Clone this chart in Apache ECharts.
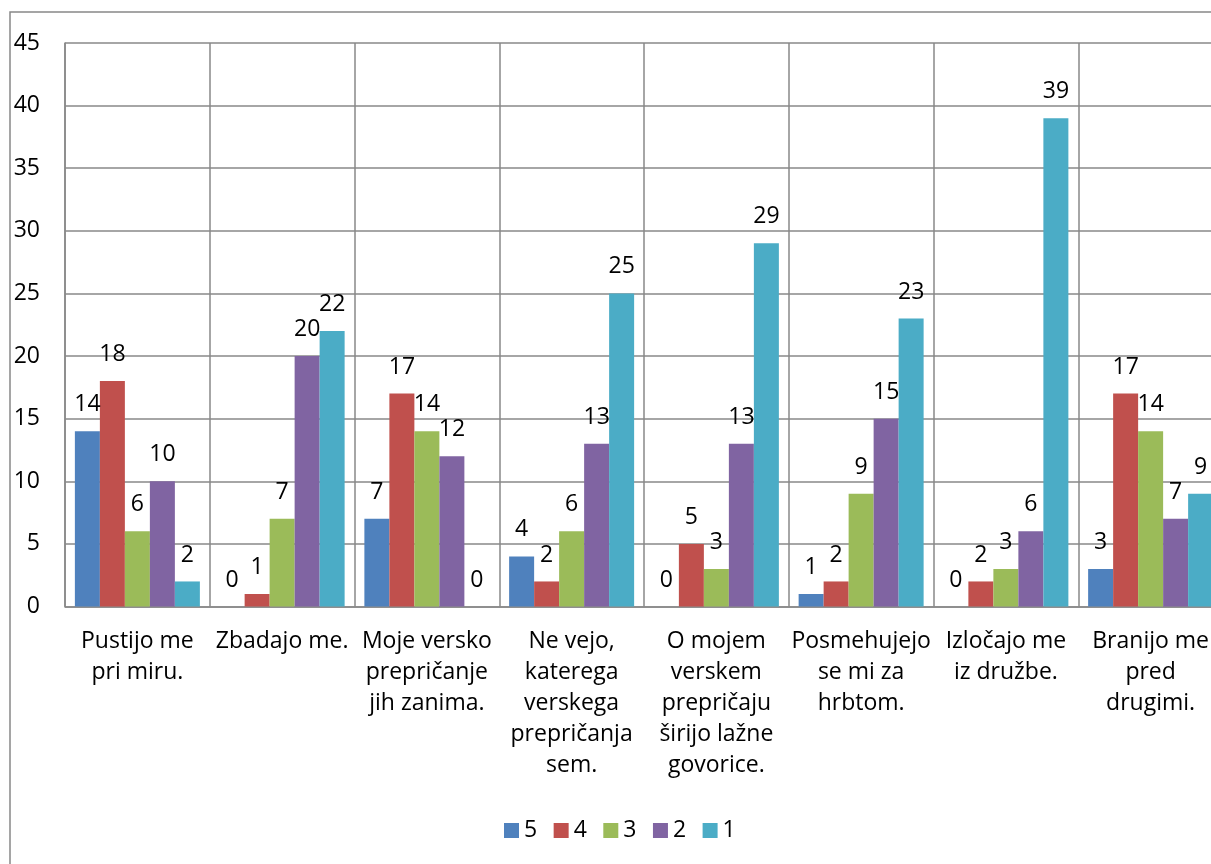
<!DOCTYPE html>
<html>
<head>
<meta charset="utf-8">
<title>Odzivi na versko prepričanje</title>
<script src="https://cdn.jsdelivr.net/npm/echarts/dist/echarts.min.js"></script>
<style>
    html, body {margin: 0; padding: 0; background: #fff; overflow: hidden;}
    /* graf je na desni odrezan, zato je platno malo širše od okna */
    #main {width: 1223px; height: 864px;}
</style>
</head>
<body>
<div id="main"></div>
<script>
// kategorije (z ročnimi prelomi vrstic kot na sliki)
var categories = [
    'Pustijo me\npri miru.',
    'Zbadajo me.',
    'Moje versko\nprepričanje\njih zanima.',
    'Ne vejo,\nkaterega\nverskega\nprepričanja\nsem.',
    'O mojem\nverskem\nprepričaju\nširijo lažne\ngovorice.',
    'Posmehujejo\nse mi za\nhrbtom.',
    'Izločajo me\niz družbe.',
    'Branijo me\npred\ndrugimi.'
];
var seriesNames = ['5', '4', '3', '2', '1'];
var values5 = [14, 0, 7, 4, 0, 1, 0, 3];
var values4 = [18, 1, 17, 2, 5, 2, 2, 17];
var values3 = [6, 7, 14, 6, 3, 9, 3, 14];
var values2 = [10, 20, 12, 13, 13, 15, 6, 7];
var values1 = [2, 22, 0, 25, 29, 23, 39, 9];
var yTicks = {min: 0, max: 45, interval: 5};

var colors = ['#4F81BD', '#C0504D', '#9BBB59', '#8064A2', '#4BACC6'];
var gridColor = '#888888';
var font = 'Open Sans';
var fontSize = 23;

var myChart = echarts.init(document.getElementById('main'));

function bar(name, data) {
    return {
        name: name,
        type: 'bar',
        data: data,
        barWidth: 25,
        barGap: '0%',
        label: {
            show: true,
            position: 'top',
            distance: 15,
            color: '#000',
            fontFamily: font,
            fontSize: fontSize
        }
    };
}

var option = {
    animation: false,
    color: colors,
    textStyle: {fontFamily: font},
    // okvir grafa (desni in spodnji rob sta odrezana)
    graphic: [{
        type: 'rect',
        silent: true,
        shape: {x: 10, y: 12, width: 1400, height: 1000},
        style: {fill: 'none', stroke: gridColor, lineWidth: 1.5}
    }],
    legend: {
        data: seriesNames,
        left: 499,
        top: 814,
        icon: 'rect',
        itemWidth: 15,
        itemHeight: 15,
        itemGap: 16.5,
        textStyle: {color: '#000', fontFamily: font, fontSize: fontSize}
    },
    grid: {
        left: 65,
        right: 0,
        top: 43,
        bottom: 257.5,
        containLabel: false
    },
    xAxis: {
        type: 'category',
        data: categories,
        axisLine: {lineStyle: {color: gridColor, width: 1.5}},
        axisTick: {show: false},
        splitLine: {show: true, lineStyle: {color: gridColor, width: 1.5}},
        axisLabel: {
            interval: 0,
            margin: 19,
            color: '#000',
            fontFamily: font,
            fontSize: fontSize,
            lineHeight: 31
        }
    },
    yAxis: {
        type: 'value',
        min: yTicks.min,
        max: yTicks.max,
        interval: yTicks.interval,
        axisLine: {show: true, lineStyle: {color: gridColor, width: 1.5}},
        axisTick: {show: false},
        splitLine: {lineStyle: {color: gridColor, width: 1.5}},
        axisLabel: {
            margin: 25,
            color: '#000',
            fontFamily: font,
            fontSize: fontSize
        }
    },
    series: [
        bar(seriesNames[0], values5),
        bar(seriesNames[1], values4),
        bar(seriesNames[2], values3),
        bar(seriesNames[3], values2),
        bar(seriesNames[4], values1)
    ]
};

myChart.setOption(option);
</script>
</body>
</html>
